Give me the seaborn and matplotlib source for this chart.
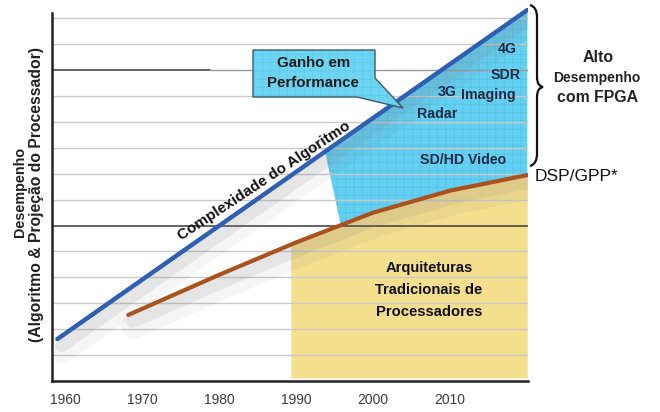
import numpy as np
import matplotlib
matplotlib.use("Agg")
import matplotlib.pyplot as plt
import matplotlib.patheffects as pe
from matplotlib.path import Path
from matplotlib.patches import PathPatch, Polygon
import seaborn as sns

# ---- data -------------------------------------------------------------
tick_years = [1960, 1970, 1980, 1990, 2000, 2010]

algo_years = [1959.0, 2020.0]          # Complexidade do Algoritmo
algo_perf = [1.62, 14.32]

dsp_years = [1968.2, 1980, 1990, 2000, 2010, 2020]   # DSP/GPP*
dsp_perf = [2.55, 4.1, 5.35, 6.5, 7.35, 7.95]

fpga_top_start = 1993.75     # where the FPGA region leaves the algorithm line
fpga_low_start = 1995.8      # where it meets the DSP/GPP curve
trad_start = 1989.3          # start of the traditional-architectures region
region_end = 2020.0

grid_levels = list(range(1, 15))
dark_levels = [6, 12]

fpga_labels = [("4G", 2017.4, 12.82), ("SDR", 2017.2, 11.81),
               ("3G", 2009.6, 11.16), ("Imaging", 2015.0, 11.05),
               ("Radar", 2008.3, 10.31), ("SD/HD Video", 2011.7, 8.53)]

# ---- style ------------------------------------------------------------
sns.set_theme(style="white")
plt.rcParams["font.family"] = ["Liberation Sans", "DejaVu Sans"]
plt.rcParams["hatch.linewidth"] = 0.35

W, H = 660, 412
fig = plt.figure(figsize=(W / 100, H / 100), dpi=100)
ax = fig.add_axes([52 / W, 1 - 381 / H, (528 - 52) / W, (381 - 8) / H])
ax.set_xlim(1958.3, 2020.1)
ax.set_ylim(0, 14.4)


def px(x, y):
    """pixel position -> figure fraction"""
    return (x / W, 1 - y / H)


# gridlines
for lv in grid_levels:
    if lv in dark_levels:
        continue
    ax.axhline(lv, color="#c9c9c9", lw=1.0, zorder=2)
ax.axhline(6, color="#3a3a3a", lw=1.1, zorder=2)
ax.plot([1958.3, 1978.8], [12, 12], color="#3a3a3a", lw=1.1, zorder=2)
ax.plot([1978.8, 2020.1], [12, 12], color="#9a9a9a", lw=1.0, zorder=2)

# regions
algo_at = lambda x: np.interp(x, algo_years, algo_perf)
dsp_at = lambda x: np.interp(x, dsp_years, dsp_perf)

xs_trad = np.linspace(trad_start, region_end, 60)
ax.fill_between(xs_trad, 0.12, dsp_at(xs_trad), color="#f4df8e", lw=0, zorder=1)

xs_top = np.linspace(fpga_top_start, region_end, 40)
xs_low = np.linspace(region_end, fpga_low_start, 40)
poly = np.vstack([np.column_stack([xs_top, algo_at(xs_top)]),
                  np.column_stack([xs_low, dsp_at(xs_low)])])
ax.add_patch(Polygon(poly, closed=True, facecolor="#63cff1", edgecolor="#4fbde2",
                     lw=0, hatch="++", zorder=1.5))

# lines with soft drop shadows
shadow = [pe.SimpleLineShadow(offset=(4, -8), shadow_color="#808080", alpha=0.08, linewidth=18),
          pe.SimpleLineShadow(offset=(3, -5), shadow_color="#808080", alpha=0.13, linewidth=9),
          pe.Normal()]
sns.lineplot(x=dsp_years, y=dsp_perf, ax=ax, color="#a9521f", lw=3.0, zorder=4,
             path_effects=shadow)
sns.lineplot(x=algo_years, y=algo_perf, ax=ax, color="#2f5fb3", lw=3.2, zorder=5,
             path_effects=shadow)

# axes styling
for s in ["top", "right"]:
    ax.spines[s].set_visible(False)
for s in ["left", "bottom"]:
    ax.spines[s].set_color("#222222")
    ax.spines[s].set_linewidth(1.8)
ax.spines["left"].set_bounds(0, 14.2)
ax.set_xticks(tick_years)
ax.set_xticklabels([str(y) for y in tick_years])
ax.set_yticks([])
ax.tick_params(axis="x", length=0, pad=9, labelsize=10, labelcolor="#3a3a3a")

# y-axis title (two lines)
fig.text(*px(20, 192), "Desempenho", rotation=90, ha="center", va="center",
         fontsize=10.4, fontweight="bold", color="#222222")
fig.text(*px(37, 195), "(Algoritmo & Projeção do Processador)", rotation=90,
         ha="center", va="center", fontsize=11.3, fontweight="bold", color="#222222")

# line labels
ax.text(1985.8, 7.72, "Complexidade do Algoritmo", rotation=33.5, ha="center",
        va="center", fontsize=11, fontweight="bold", color="#111111", zorder=6)
fig.text(*px(535, 177), "DSP/GPP*", ha="left", va="center", fontsize=12.5,
         color="#111111")

for txt, x, y in fpga_labels:
    ax.text(x, y, txt, ha="center", va="center", fontsize=10.2,
            fontweight="bold", color="#1d2a45", zorder=6)

for txt, y in [("Arquiteturas", 268), ("Tradicionais de", 290), ("Processadores", 312)]:
    fig.text(*px(429, y), txt, ha="center", va="center", fontsize=10.6,
             fontweight="bold", color="#111111")

# callout box
box = [px(*p) for p in [(253, 50), (375, 50), (375, 78), (403, 108), (357, 97), (253, 97)]]
fig.patches.append(Polygon(box, closed=True, transform=fig.transFigure,
                           facecolor="#6dd5f2", edgecolor="#55c3e6", lw=0,
                           hatch="++", zorder=7))
fig.patches.append(Polygon(box, closed=True, transform=fig.transFigure,
                           facecolor="none", edgecolor="#3c5a6a", lw=1.0, zorder=7))
fig.text(*px(314, 63), "Ganho em", ha="center", va="center", fontsize=10.8,
         fontweight="bold", color="#1a1a1a", zorder=8)
fig.text(*px(313, 83), "Performance", ha="center", va="center", fontsize=10.8,
         fontweight="bold", color="#1a1a1a", zorder=8)

# brace
bx, tip, top, mid, bot = 530, 543, 5, 87, 166
verts = [px(bx, top), px(537, top + 2), px(537, top + 12),
         px(537, mid - 10), px(537, mid - 1), px(tip, mid),
         px(537, mid + 1), px(537, mid + 10),
         px(537, bot - 12), px(537, bot - 2), px(bx, bot)]
codes = [Path.MOVETO, Path.CURVE3, Path.CURVE3,
         Path.LINETO, Path.CURVE3, Path.CURVE3,
         Path.CURVE3, Path.CURVE3,
         Path.LINETO, Path.CURVE3, Path.CURVE3]
fig.patches.append(PathPatch(Path(verts, codes), transform=fig.transFigure,
                             facecolor="none", edgecolor="#111111", lw=1.6))

fig.text(*px(598, 58), "Alto", ha="center", va="center", fontsize=11.5,
         fontweight="bold", color="#222222")
fig.text(*px(597, 78), "Desempenho", ha="center", va="center", fontsize=10,
         fontweight="bold", color="#222222")
fig.text(*px(598, 97), "com FPGA", ha="center", va="center", fontsize=11.4,
         fontweight="bold", color="#222222")

fig.savefig("out.png", dpi=100, facecolor="white")
